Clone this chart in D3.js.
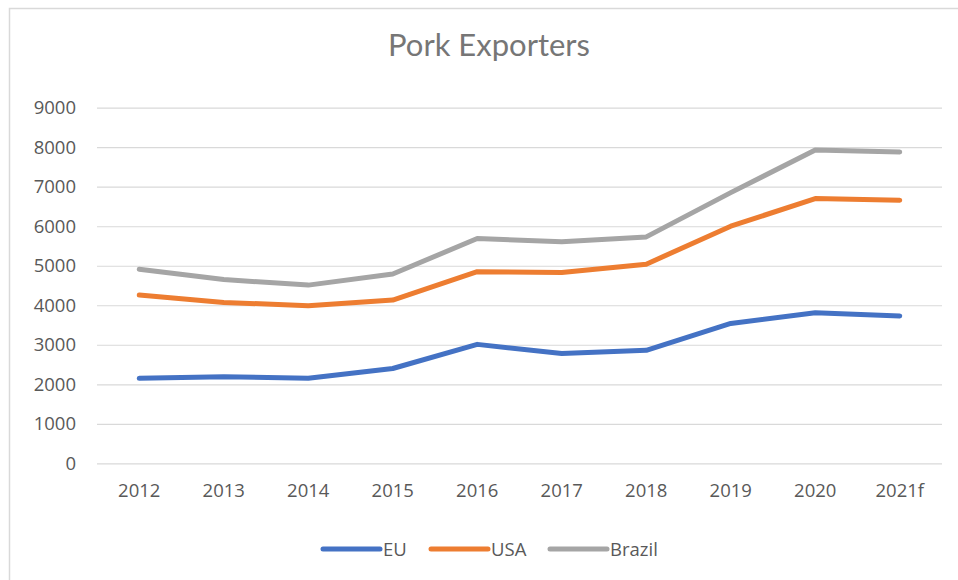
<!DOCTYPE html>
<html>
<head>
<meta charset="utf-8">
<script src="https://cdn.jsdelivr.net/npm/d3@7"></script>
<style>
  html, body { margin: 0; padding: 0; background: #fff; }
  svg { display: block; }
</style>
</head>
<body>
<svg id="chart" width="958" height="580"></svg>
<script>
// Pork exports by year (thousand tonnes)
const years = ["2012", "2013", "2014", "2015", "2016", "2017", "2018", "2019", "2020", "2021f"];
const euValues = [2150, 2190, 2150, 2400, 3010, 2780, 2860, 3540, 3810, 3730];
const usaValues = [4260, 4070, 3990, 4130, 4850, 4830, 5040, 6000, 6700, 6660];
const brazilValues = [4910, 4650, 4510, 4790, 5690, 5610, 5730, 6850, 7930, 7880];
const seriesNames = ["EU", "USA", "Brazil"];
const seriesColors = ["#4472C4", "#ED7D31", "#A5A5A5"];
const yTicks = [0, 1000, 2000, 3000, 4000, 5000, 6000, 7000, 8000, 9000];

const series = [euValues, usaValues, brazilValues].map((values, i) => ({
  name: seriesNames[i],
  color: seriesColors[i],
  values
}));

const svg = d3.select("#chart");
const W = 958, H = 580;
const plot = { left: 97, right: 942, top: 107.7, bottom: 463.3 };
const labelFont = "'Open Sans', sans-serif";
const labelSize = 18.5;

// outer frame
svg.append("rect")
  .attr("x", 9.5).attr("y", 8.5)
  .attr("width", W).attr("height", H)
  .attr("fill", "none").attr("stroke", "#d9d9d9").attr("stroke-width", 1.5);

// title
svg.append("text")
  .attr("x", 489).attr("y", 56)
  .attr("text-anchor", "middle")
  .attr("font-family", "Lato, 'Open Sans', sans-serif")
  .attr("font-size", 31)
  .attr("fill", "#767676")
  .text("Pork Exporters");

const x = d3.scaleBand().domain(years).range([plot.left, plot.right]);
const y = d3.scaleLinear().domain([0, 9000]).range([plot.bottom, plot.top]);

// horizontal gridlines + y labels
const yAxis = d3.axisLeft(y).tickValues(yTicks).tickSize(-(plot.right - plot.left)).tickPadding(21).tickFormat(d3.format("d"));
const gy = svg.append("g").attr("transform", `translate(${plot.left},0)`).call(yAxis);
gy.select(".domain").remove();
gy.selectAll(".tick line").attr("stroke", "#d9d9d9").attr("stroke-width", 1.2);
gy.selectAll(".tick text")
  .attr("font-family", labelFont)
  .attr("font-size", labelSize)
  .attr("fill", "#595959");

// x labels
const xAxis = d3.axisBottom(x).tickSize(0).tickPadding(21);
const gx = svg.append("g").attr("transform", `translate(0,${plot.bottom})`).call(xAxis);
gx.select(".domain").remove();
gx.selectAll(".tick text")
  .attr("font-family", labelFont)
  .attr("font-size", labelSize)
  .attr("fill", "#595959");

// lines
const line = d3.line()
  .x((d, i) => x(years[i]) + x.bandwidth() / 2)
  .y(d => y(d));

svg.append("g").selectAll("path")
  .data(series)
  .join("path")
  .attr("d", d => line(d.values))
  .attr("fill", "none")
  .attr("stroke", d => d.color)
  .attr("stroke-width", 5)
  .attr("stroke-linecap", "round")
  .attr("stroke-linejoin", "round");

// legend
const legendX = [323, 431, 550];
const leg = svg.append("g").selectAll("g")
  .data(series)
  .join("g")
  .attr("transform", (d, i) => `translate(${legendX[i]},549)`);
leg.append("line")
  .attr("x1", 0).attr("x2", 57).attr("y1", 0).attr("y2", 0)
  .attr("stroke", d => d.color).attr("stroke-width", 5).attr("stroke-linecap", "round");
leg.append("text")
  .attr("x", 60).attr("y", 6.5)
  .attr("font-family", labelFont)
  .attr("font-size", labelSize)
  .attr("fill", "#595959")
  .text(d => d.name);
</script>
</body>
</html>
